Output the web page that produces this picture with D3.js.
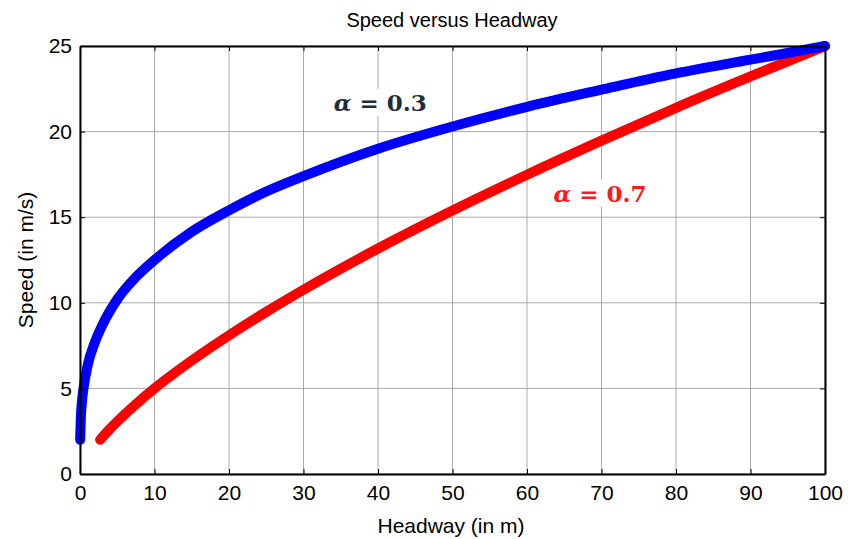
<!DOCTYPE html>
<html>
<head>
<meta charset="utf-8">
<script src="https://cdn.jsdelivr.net/npm/d3@7"></script>
<style>
	body { margin: 0; background: #fff; }
	svg text { font-family: 'Liberation Sans', Arial, sans-serif; }
</style>
</head>
<body>
<div id="draw"></div>
<script>
// values
const xTicks = [0, 10, 20, 30, 40, 50, 60, 70, 80, 90, 100];
const yTicks = [0, 5, 10, 15, 20, 25];

const blueHeadway = [0.02, 0.1, 0.3, 0.5, 1, 2, 3, 5, 7.5, 10, 15, 20, 25, 30, 40, 50, 60, 70, 80, 90, 100];
const blueSpeed = [2.0, 3.15, 4.4, 5.1, 6.3, 7.7, 8.7, 10.2, 11.5, 12.5, 14.15, 15.4, 16.5, 17.4, 19.0, 20.3, 21.45, 22.45, 23.4, 24.2, 25];

const redHeadway = [2.7, 4, 5, 7.5, 10, 15, 20, 25, 30, 40, 50, 60, 70, 80, 90, 100];
const redSpeed = [2.0, 2.63, 3.07, 4.08, 5.0, 6.63, 8.1, 9.47, 10.76, 13.17, 15.39, 17.48, 19.47, 21.39, 23.22, 25];

var margin = { top: 46, right: 23, bottom: 65, left: 80 },
	width = 848 - margin.left - margin.right,
	height = 539 - margin.top - margin.bottom;

var svg = d3
	.select('#draw')
	.append('svg')
	.attr('width', 848)
	.attr('height', 539);

var g = svg
	.append('g')
	.attr('transform', 'translate(' + margin.left + ',' + margin.top + ')');

var x = d3.scaleLinear().domain([0, 100]).range([0, width]);
var y = d3.scaleLinear().domain([0, 25]).range([height, 0]);

// grid
g.selectAll('.vgrid')
	.data(xTicks)
	.enter()
	.append('line')
	.attr('x1', (d) => x(d))
	.attr('x2', (d) => x(d))
	.attr('y1', 0)
	.attr('y2', height)
	.attr('stroke', '#aaa')
	.attr('stroke-width', 1);

g.selectAll('.hgrid')
	.data(yTicks)
	.enter()
	.append('line')
	.attr('x1', 0)
	.attr('x2', width)
	.attr('y1', (d) => y(d))
	.attr('y2', (d) => y(d))
	.attr('stroke', '#aaa')
	.attr('stroke-width', 1);

// labels on curves (white box hides the grid)
var labels = g.append('g');
function curveLabel(cx, cy, val, color) {
	var t = labels.append('text')
		.attr('x', cx)
		.attr('y', cy)
		.attr('text-anchor', 'middle')
		.attr('dominant-baseline', 'central')
		.style('font-family', "'DejaVu Serif', 'Liberation Serif', serif")
		.style('font-weight', 'bold')
		.style('font-size', '23px')
		.attr('fill', color);
	t.append('tspan').style('font-style', 'italic').text('α');
	t.append('tspan').text(' = ' + val);
	var b = t.node().getBBox();
	labels.insert('rect', () => t.node())
		.attr('x', b.x - 3)
		.attr('y', b.y)
		.attr('width', b.width + 6)
		.attr('height', b.height)
		.attr('fill', '#fff');
}
curveLabel(x(40.3), y(21.7), '0.3', '#1f2d40');
curveLabel(x(69.8), y(16.4), '0.7', '#ff1a1a');

// curves
var line = d3
	.line()
	.x((d) => x(d[0]))
	.y((d) => y(d[1]))
	.curve(d3.curveMonotoneX);

g.append('path')
	.datum(redHeadway.map((h, i) => [h, redSpeed[i]]))
	.attr('d', line)
	.attr('fill', 'none')
	.attr('stroke', '#ff0000')
	.attr('stroke-width', 10)
	.attr('stroke-linecap', 'round')
	.attr('stroke-linejoin', 'round');

g.append('path')
	.datum(blueHeadway.map((h, i) => [h, blueSpeed[i]]))
	.attr('d', line)
	.attr('fill', 'none')
	.attr('stroke', '#0000ff')
	.attr('stroke-width', 10)
	.attr('stroke-linecap', 'round')
	.attr('stroke-linejoin', 'round');

// axes with inward ticks on all sides
var fs = '21px';
var bottom = g.append('g')
	.attr('transform', 'translate(0,' + height + ')')
	.call(d3.axisBottom(x).tickValues(xTicks).tickSizeInner(-5).tickSizeOuter(0).tickPadding(11));
var left = g.append('g')
	.call(d3.axisLeft(y).tickValues(yTicks).tickSizeInner(-5).tickSizeOuter(0).tickPadding(8));
g.append('g')
	.call(d3.axisTop(x).tickValues(xTicks).tickSizeInner(-5).tickSizeOuter(0).tickFormat(''));
g.append('g')
	.attr('transform', 'translate(' + width + ',0)')
	.call(d3.axisRight(y).tickValues(yTicks).tickSizeInner(-5).tickSizeOuter(0).tickFormat(''));

svg.selectAll('.domain').attr('stroke', '#000').attr('stroke-width', 2);
svg.selectAll('.tick line').attr('stroke', '#000');
[bottom, left].forEach((a) => {
	a.selectAll('text')
		.style('font-family', "'Liberation Sans', Arial, sans-serif")
		.style('font-size', fs)
		.attr('fill', '#000');
});

// titles
svg.append('text')
	.attr('x', 452)
	.attr('y', 27)
	.attr('text-anchor', 'middle')
	.style('font-size', '20px')
	.text('Speed versus Headway');

svg.append('text')
	.attr('x', 451)
	.attr('y', 533)
	.attr('text-anchor', 'middle')
	.style('font-size', '21px')
	.text('Headway (in m)');

svg.append('text')
	.attr('transform', 'translate(33,' + (margin.top + height / 2) + ') rotate(-90)')
	.attr('text-anchor', 'middle')
	.style('font-size', '21px')
	.text('Speed (in m/s)');
</script>
</body>
</html>
